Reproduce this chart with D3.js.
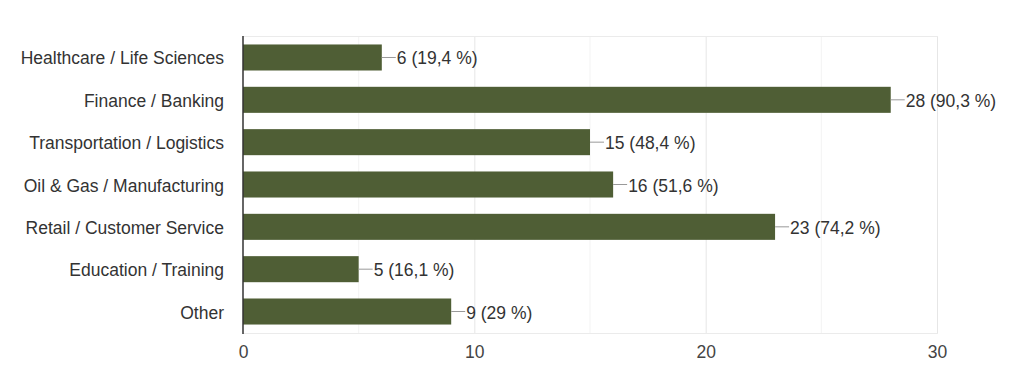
<!DOCTYPE html>
<html><head><meta charset="utf-8">
<script src="https://cdn.jsdelivr.net/npm/d3@7"></script>
<style>body{margin:0;background:#fff}svg{display:block}text{font-family:"Liberation Sans",Arial,sans-serif}</style>
</head><body>
<svg id="c" width="1024" height="382"></svg>
<script>
const categories = ["Healthcare / Life Sciences","Finance / Banking","Transportation / Logistics","Oil & Gas / Manufacturing","Retail / Customer Service","Education / Training","Other"];
const counts = [6,28,15,16,23,5,9];
const percents = ["19,4","90,3","48,4","51,6","74,2","16,1","29"];
const tickValues = [0,10,20,30];
const minorTicks = [5,15,25];

const FONT = "Liberation Sans, Arial, sans-serif";
const FS = 17.5;
const svg = d3.select("#c");
const L = 243, R = 937, T = 36, B = 333;
const x = d3.scaleLinear().domain([0,30]).range([L,R]);
const y = d3.scaleBand().domain(categories).range([T,B]).paddingInner(0.385).paddingOuter(0.2);

svg.selectAll(".mg").data(minorTicks).join("line")
  .attr("x1",d=>x(d)).attr("x2",d=>x(d)).attr("y1",T).attr("y2",B)
  .attr("stroke","#f3f3f3").attr("stroke-width",1);
svg.selectAll(".g").data(tickValues.slice(1)).join("line")
  .attr("x1",d=>x(d)+0.5).attr("x2",d=>x(d)+0.5).attr("y1",T).attr("y2",B)
  .attr("stroke","#e6e6e6").attr("stroke-width",1);
svg.append("line").attr("x1",L).attr("x2",R+1).attr("y1",T+0.5).attr("y2",T+0.5).attr("stroke","#ebebeb");
svg.append("line").attr("x1",L).attr("x2",R+1).attr("y1",B+0.5).attr("y2",B+0.5).attr("stroke","#ebebeb");

svg.selectAll(".bar").data(categories).join("rect")
  .attr("x",x(0)).attr("y",d=>y(d))
  .attr("width",(d,i)=>x(counts[i])-x(0)).attr("height",y.bandwidth())
  .attr("fill","#4f5e35");

svg.selectAll(".ll").data(categories).join("line")
  .attr("x1",(d,i)=>x(counts[i])).attr("x2",(d,i)=>x(counts[i])+14)
  .attr("y1",d=>y(d)+y.bandwidth()/2).attr("y2",d=>y(d)+y.bandwidth()/2)
  .attr("stroke","#999").attr("stroke-width",1);
svg.selectAll(".vl").data(categories).join("text")
  .attr("x",(d,i)=>x(counts[i])+15).attr("y",d=>y(d)+y.bandwidth()/2)
  .attr("dy","0.4em").attr("font-size",FS).attr("fill","#333").attr("font-family",FONT)
  .text((d,i)=>`${counts[i]} (${percents[i]} %)`);

const ya = d3.axisLeft(y).tickSize(0).tickPadding(19);
const yg = svg.append("g").attr("transform",`translate(${L},0)`).call(ya);
yg.select(".domain").remove();
yg.selectAll("text").attr("font-size",FS).attr("fill","#333").attr("font-family",FONT).attr("dy","0.4em");

svg.append("line").attr("x1",L).attr("x2",L).attr("y1",T).attr("y2",B+1).attr("stroke","#333").attr("stroke-width",1.5);

const xa = d3.axisBottom(x).tickValues(tickValues).tickSize(0).tickPadding(13);
const xg = svg.append("g").attr("transform",`translate(0,${B})`).call(xa);
xg.select(".domain").remove();
xg.selectAll("text").attr("font-size",FS).attr("fill","#444").attr("font-family",FONT);
</script>
</body></html>
